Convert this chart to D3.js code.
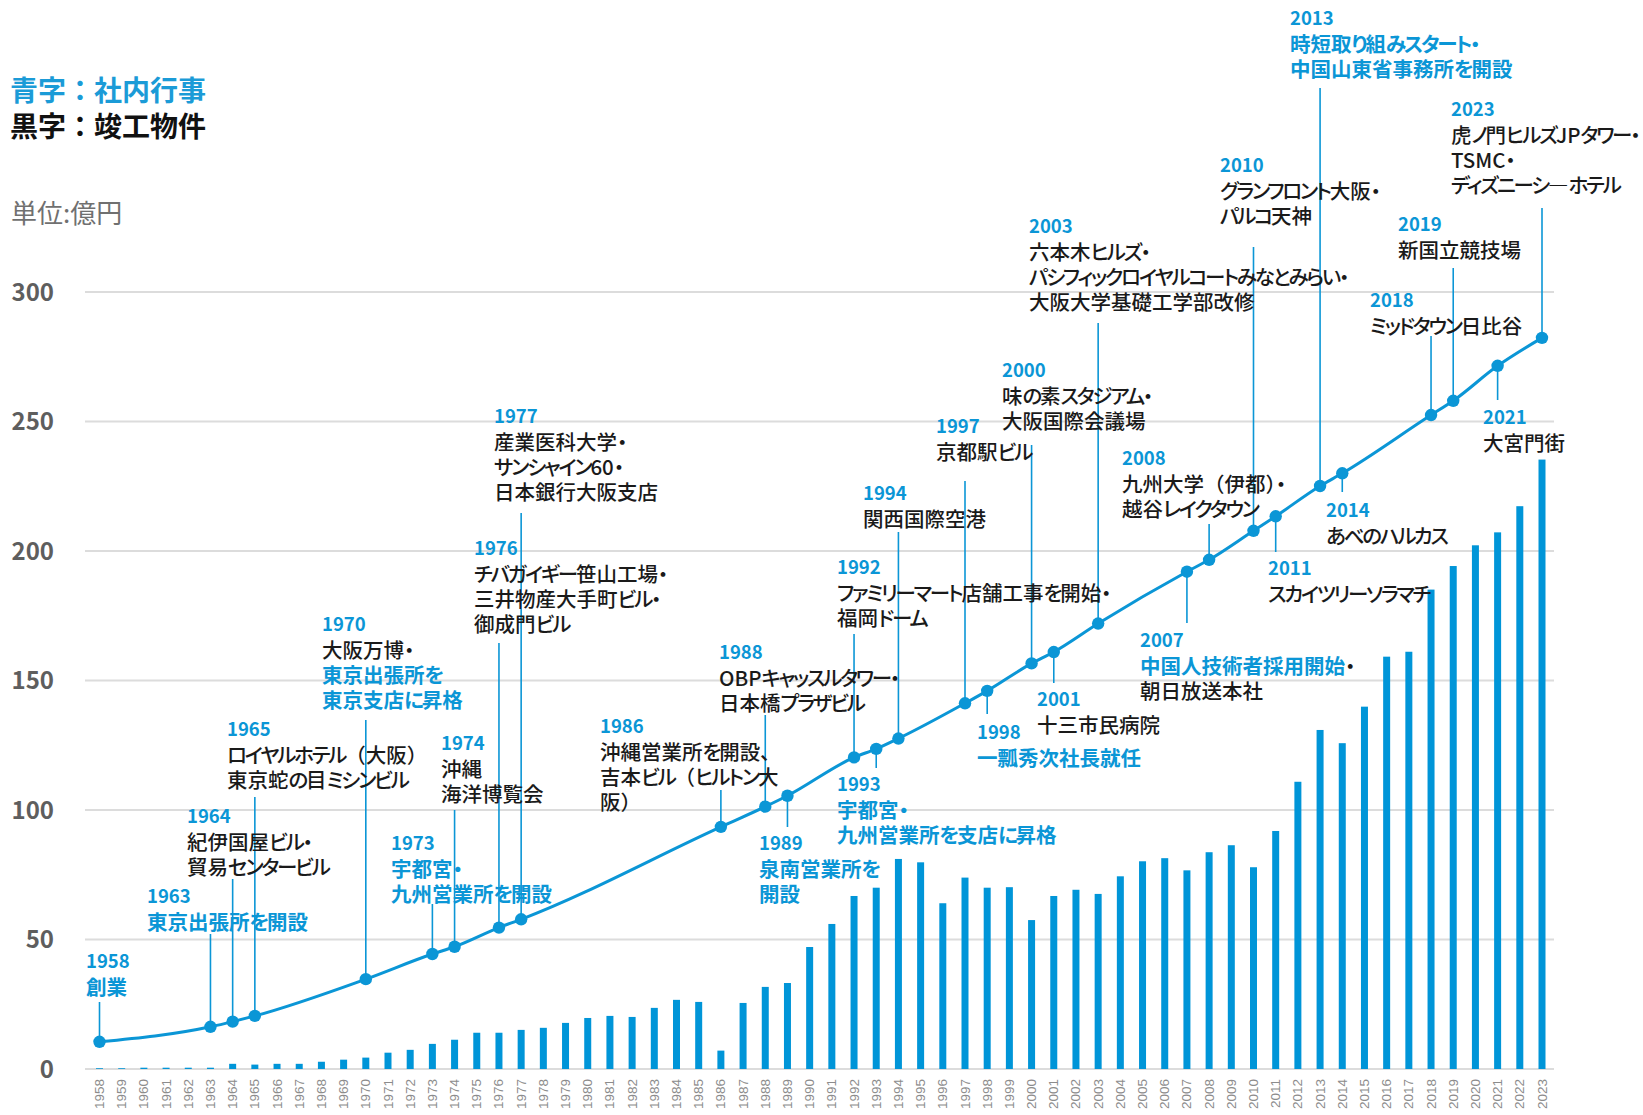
<!DOCTYPE html>
<html>
<head>
<meta charset="utf-8">
<script src="https://cdn.jsdelivr.net/npm/d3@7"></script>
<style>
  html, body { margin: 0; padding: 0; background: #fff; }
  svg text { font-family: "Noto Sans CJK JP", "Noto Sans", sans-serif; }
  svg text.note { font-feature-settings: "palt"; }
</style>
</head>
<body>
<svg id="chart" width="1643" height="1115"></svg>
<script>
// --- data ---
var years = d3.range(1958, 2024);
// annual orders (bars), 億円
var orders = [0.3, 0.3, 0.5, 0.5, 0.5, 0.5, 2.0, 1.7, 2.0, 2.0, 2.8, 3.6, 4.4, 6.3, 7.4, 9.7, 11.3, 14.0, 14.0, 15.1,
              15.9, 17.8, 19.7, 20.5, 20.1, 23.6, 26.7, 25.9, 7.1, 25.5, 31.7, 33.2, 47.1, 56.0, 66.8, 70.0, 81.1, 79.8,
              64.0, 73.9, 70.0, 70.2, 57.5, 66.8, 69.2, 67.6, 74.4, 80.2, 81.4, 76.7, 83.7, 86.4, 77.9, 91.9, 110.9,
              130.9, 125.8, 139.9, 159.2, 161.1, 185.1, 194.2, 202.2, 207.2, 217.3, 235.3];
var yTicks = [0, 50, 100, 150, 200, 250, 300];

// milestones on the trend line
var eventYears = [1958, 1963, 1964, 1965, 1970, 1973, 1974, 1976, 1977, 1986, 1988, 1989, 1992, 1993, 1994,
                  1997, 1998, 2000, 2001, 2003, 2007, 2008, 2010, 2011, 2013, 2014, 2018, 2019, 2021, 2023];
var eventValues = [10.5, 16.3, 18.3, 20.5, 34.7, 44.4, 47.2, 54.6, 57.8, 93.5, 101.3, 105.5, 120.3, 123.6, 127.6,
                   141.2, 146.0, 156.6, 161.0, 172.0, 192.0, 196.6, 207.8, 213.4, 225.1, 230.0, 252.5, 258.0, 271.5, 282.3];
// {b} = blue (社内行事), {k} = black (竣工物件)
var eventTexts = [
  ["{b}創業"],
  ["{b}東京出張所を開設"],
  ["{k}紀伊国屋ビル・", "{k}貿易センタービル"],
  ["{k}ロイヤルホテル（大阪）", "{k}東京蛇の目ミシンビル"],
  ["{k}大阪万博・", "{b}東京出張所を", "{b}東京支店に昇格"],
  ["{b}宇都宮・", "{b}九州営業所を開設"],
  ["{k}沖縄", "{k}海洋博覧会"],
  ["{k}チバガイギー笹山工場・", "{k}三井物産大手町ビル・", "{k}御成門ビル"],
  ["{k}産業医科大学・", "{k}サンシャイン60・", "{k}日本銀行大阪支店"],
  ["{k}沖縄営業所を開設、", "{k}吉本ビル（ヒルトン大", "{k}阪）"],
  ["{k}OBPキャッスルタワー・", "{k}日本橋プラザビル"],
  ["{b}泉南営業所を", "{b}開設"],
  ["{k}ファミリーマート店舗工事を開始・", "{k}福岡ドーム"],
  ["{b}宇都宮・", "{b}九州営業所を支店に昇格"],
  ["{k}関西国際空港"],
  ["{k}京都駅ビル"],
  ["{b}一瓢秀次社長就任"],
  ["{k}味の素スタジアム・", "{k}大阪国際会議場"],
  ["{k}十三市民病院"],
  ["{k}六本木ヒルズ・", "{k}パシフィックロイヤルコートみなとみらい・", "{k}大阪大学基礎工学部改修"],
  ["{b}中国人技術者採用開始{k}・", "{k}朝日放送本社"],
  ["{k}九州大学（伊都）・", "{k}越谷レイクタウン"],
  ["{k}グランフロント大阪・", "{k}パルコ天神"],
  ["{k}スカイツリーソラマチ"],
  ["{b}時短取り組みスタート・", "{b}中国山東省事務所を開設"],
  ["{k}あべのハルカス"],
  ["{k}ミッドタウン日比谷"],
  ["{k}新国立競技場"],
  ["{k}大宮門街"],
  ["{k}虎ノ門ヒルズJPタワー・", "{k}TSMC・", "{k}ディズニーシ―ホテル"]
];

// --- label placement: text left x, year label centre y, end of leader y ---
var labelLayout = [
  [86, 960, 1002], [147, 895, 934], [187, 815, 879], [227, 728, 797], [322, 623, 720],
  [391, 842, 904], [441, 742, 810], [474, 547, 643], [494, 415, 513], [600, 725, 790],
  [719, 651, 715], [759, 842, 827], [837, 566, 634], [837, 783, 768], [863, 492, 532],
  [936, 425, 481], [977, 731, 714], [1002, 369, 445], [1037, 698, 683], [1029, 225, 323],
  [1140, 639, 623], [1122, 457, 524], [1220, 164, 247], [1268, 567, 552], [1290, 17, 88],
  [1326, 509, 492], [1370, 299, 336], [1398, 223, 268], [1483, 416, 400], [1451, 108, 208]
];

var BLUE = "#0b96d6", BLACK = "#1a1a1a";
var svg = d3.select("#chart");

var x = d3.scalePoint().domain(years).range([99.5, 1542]);
var y = d3.scaleLinear().domain([0, 300]).range([1069, 292]);

// gridlines
svg.append("g").selectAll("line").data(yTicks).enter().append("line")
    .attr("x1", 85).attr("x2", 1554)
    .attr("y1", function (d) { return y(d); }).attr("y2", function (d) { return y(d); })
    .attr("stroke", "#dcdcdc").attr("stroke-width", 2);

// y axis labels
svg.append("g").selectAll("text").data(yTicks).enter().append("text")
    .attr("x", 54).attr("y", function (d) { return y(d) - 2; })
    .attr("text-anchor", "end").attr("dominant-baseline", "central")
    .attr("font-size", 24).attr("font-weight", 700).attr("fill", "#5e5e5e")
    .text(function (d) { return d; });

// x axis labels
svg.append("g").selectAll("text").data(years).enter().append("text")
    .attr("transform", function (d) { return "translate(" + (x(d) + 4.5) + ",1079) rotate(-90)"; })
    .attr("text-anchor", "end")
    .style("font-family", "'Liberation Sans', Arial, sans-serif")
    .attr("font-size", 13.5).attr("fill", "#8c8c8c")
    .text(function (d) { return d; });

// bars
svg.append("g").selectAll("rect").data(years).enter().append("rect")
    .attr("x", function (d) { return x(d) - 3.5; })
    .attr("width", 7)
    .attr("y", function (d, i) { return y(orders[i]); })
    .attr("height", function (d, i) { return y(0) - y(orders[i]); })
    .attr("fill", "#0095d8");

// leader lines
var events = eventYears.map(function (yr, i) {
    return { year: yr, value: eventValues[i], lines: eventTexts[i], lx: labelLayout[i][0], ly: labelLayout[i][1], le: labelLayout[i][2] };
});
svg.append("g").selectAll("line").data(events).enter().append("line")
    .attr("x1", function (d) { return x(d.year); }).attr("x2", function (d) { return x(d.year); })
    .attr("y1", function (d) { return d.le; }).attr("y2", function (d) { return y(d.value); })
    .attr("stroke", BLUE).attr("stroke-width", 1.6);

// trend line + dots
var line = d3.line()
    .x(function (d) { return x(d.year); })
    .y(function (d) { return y(d.value); })
    .curve(d3.curveMonotoneX);
svg.append("path").datum(events).attr("d", line)
    .attr("fill", "none").attr("stroke", BLUE).attr("stroke-width", 3);
svg.append("g").selectAll("circle").data(events).enter().append("circle")
    .attr("cx", function (d) { return x(d.year); })
    .attr("cy", function (d) { return y(d.value); })
    .attr("r", 6.2).attr("fill", BLUE);

// labels
var KANA = /[\u3041-\u30ff]/;
function writeLine(t, ln) {
    // split into colour segments, keep full-width brackets wide, tighten kana with dx
    var re = /\{(b|k)\}([^{]*)/g, m, all = "";
    while ((m = re.exec(ln)) !== null) {
        var colour = m[1] === "b" ? BLUE : BLACK, weight = m[1] === "b" ? 700 : 500;
        var rr = /([（）]+)|([^（）]+)/g, p;
        while ((p = rr.exec(m[2])) !== null) {
            var sp = t.append("tspan").attr("fill", colour).attr("font-weight", weight).text(p[0]);
            if (p[1]) sp.style("font-feature-settings", "normal");
        }
        all += m[2];
    }
    var dx = [];
    for (var i = 0; i < all.length; i++) {
        dx.push(i > 0 && KANA.test(all[i - 1]) ? -2.2 : 0);
    }
    t.attr("dx", dx.join(" "));
}
var lab = svg.append("g").selectAll("g").data(events).enter().append("g");
lab.append("text")
    .attr("x", function (d) { return d.lx; }).attr("y", function (d) { return d.ly; })
    .attr("dominant-baseline", "central")
    .attr("font-size", 18.5).attr("font-weight", 700).attr("fill", BLUE)
    .text(function (d) { return d.year; });
lab.each(function (d) {
    var g = d3.select(this);
    d.lines.forEach(function (ln, j) {
        var t = g.append("text").attr("class", "note")
            .attr("x", d.lx).attr("y", d.ly + 26 + j * 25)
            .attr("dominant-baseline", "central")
            .attr("font-size", 20.5);
        writeLine(t, ln);
    });
});

// legend / unit
svg.append("text").attr("x", 10).attr("y", 89).attr("dominant-baseline", "central")
    .attr("font-size", 28).attr("font-weight", 700).attr("fill", "#1b9bd7").text("青字：社内行事");
svg.append("text").attr("x", 10).attr("y", 125).attr("dominant-baseline", "central")
    .attr("font-size", 28).attr("font-weight", 700).attr("fill", "#111").text("黒字：竣工物件");
svg.append("text").attr("x", 11).attr("y", 211).attr("dominant-baseline", "central")
    .attr("font-size", 26).attr("fill", "#707070").text("単位:億円");
</script>
</body>
</html>
